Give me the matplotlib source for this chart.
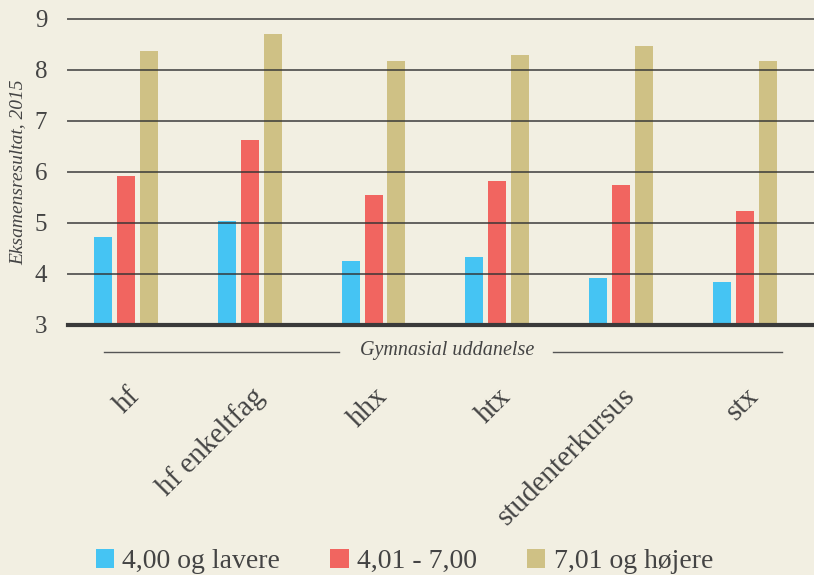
import numpy as np
import matplotlib.pyplot as plt
from matplotlib.patches import Patch
from matplotlib.lines import Line2D
import matplotlib.transforms as mtransforms

# Data
categories = ["hf", "hf enkeltfag", "hhx", "htx", "studenterkursus", "stx"]
series_names = ["4,00 og lavere", "4,01 - 7,00", "7,01 og højere"]
low = [4.72, 5.03, 4.25, 4.33, 3.92, 3.84]
mid = [5.93, 6.63, 5.55, 5.82, 5.74, 5.23]
high = [8.38, 8.70, 8.18, 8.29, 8.47, 8.18]
yticks = [3, 4, 5, 6, 7, 8, 9]

colors = ["#45C4F3", "#F16560", "#CFC185"]
bg = "#F2EFE2"
txt = "#444444"

plt.rcParams['font.family'] = ['Liberation Serif', 'DejaVu Serif']

fig = plt.figure(figsize=(8.14, 5.75), dpi=100, facecolor=bg)
ax = fig.add_axes([0.0835, 0.4348, 0.9165, 0.5322], facecolor=bg)

x = np.arange(len(categories))
w = 0.145
off = 0.185
for i, vals in enumerate([low, mid, high]):
    ax.bar(x + (i - 1) * off, np.array(vals) - 3, bottom=3, width=w,
           color=colors[i], zorder=2)

ax.set_xlim(-0.47, 5.56)
ax.set_ylim(3, 9)
ax.set_yticks(yticks)
ax.set_yticklabels([str(t) for t in yticks], fontsize=18, color=txt)
for t in yticks[1:]:
    ax.axhline(t, color="#333333", lw=1.4, alpha=0.75, zorder=3, clip_on=False)
ax.axhline(3, color="#3a3a3a", lw=3, zorder=4, clip_on=False)

for s in ax.spines.values():
    s.set_visible(False)
ax.tick_params(axis='y', length=0, pad=15)
ax.tick_params(axis='x', length=0)
ax.set_xticks([])

ax.set_ylabel("Eksamensresultat, 2015", fontsize=14, style='italic', color=txt,
              labelpad=6)

# rotated category labels
trans = ax.get_xaxis_transform() + mtransforms.ScaledTranslation(1 / 100, 0, fig.dpi_scale_trans)
for xi, lab in zip(x, categories):
    ax.text(xi, -0.19, lab, transform=trans, rotation=45, ha='right', va='top',
            rotation_mode='anchor', fontsize=21, color=txt)

# axis title with lines either side
fig.text(0.549, 1 - 350 / 575, "Gymnasial uddanelse", ha='center', va='center',
         fontsize=14.5, style='italic', color=txt)
fig.add_artist(Line2D([104 / 814, 339 / 814], [1 - 352 / 575] * 2, color="#555555", lw=1))
fig.add_artist(Line2D([553 / 814, 782 / 814], [1 - 352 / 575] * 2, color="#555555", lw=1))

handles = [Patch(facecolor=c, edgecolor='none') for c in colors]
fig.legend(handles, series_names, loc='lower left', bbox_to_anchor=(0.087, -0.042),
           ncol=3, frameon=False, fontsize=20, handlelength=0.66, handleheight=0.66,
           handletextpad=0.3, columnspacing=1.8, labelcolor=txt)

fig.savefig("out.png", dpi=100, facecolor=bg)
